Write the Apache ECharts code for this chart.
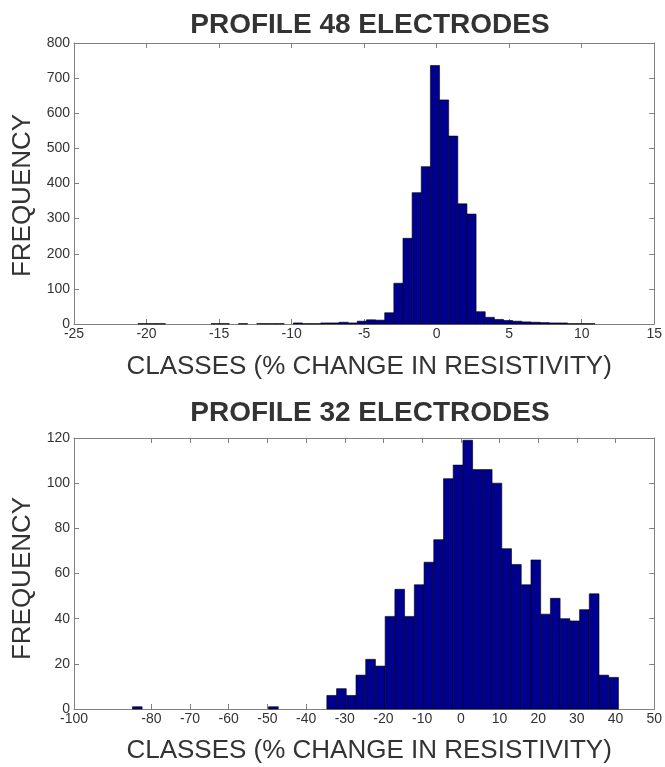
<!DOCTYPE html>
<html>
<head>
<meta charset="utf-8">
<script src="https://cdn.jsdelivr.net/npm/echarts@6/dist/echarts.min.js"></script>
<style>
html,body{margin:0;padding:0;background:#fff;}
#chart{width:665px;height:767px;}
</style>
</head>
<body>
<div id="chart"></div>
<script>
// ---- Top histogram: PROFILE 48 ELECTRODES ----
const topTitle = 'PROFILE 48 ELECTRODES';
const topBinWidth = 0.63;
const topCenters = [-20.275,-19.645,-19.015,-18.385,-17.755,-17.125,-16.495,-15.865,-15.235,-14.605,
  -13.975,-13.345,-12.715,-12.085,-11.455,-10.825,-10.195,-9.565,-8.935,-8.305,
  -7.675,-7.045,-6.415,-5.785,-5.155,-4.525,-3.895,-3.265,-2.635,-2.005,
  -1.375,-0.745,-0.115,0.515,1.145,1.775,2.405,3.035,3.665,4.295,
  4.925,5.555,6.185,6.815,7.445,8.075,8.705,9.335,9.965,10.595];
const topCounts = [1,1,1,0,0,0,0,0,1,1,
  0,1,0,1,1,1,0,3,1,1,
  3,3,5,3,8,12,11,32,116,244,
  374,448,736,638,535,342,313,35,19,13,
  10,8,6,5,4,3,3,1,1,1];
const topXTicks = [-25,-20,-15,-10,-5,0,5,10,15];
const topYTicks = [0,100,200,300,400,500,600,700,800];

// ---- Bottom histogram: PROFILE 32 ELECTRODES ----
const botTitle = 'PROFILE 32 ELECTRODES';
const botBinWidth = 2.513;
const botCenters = [-83.64,-81.127,-78.614,-76.101,-73.588,-71.075,-68.562,-66.049,-63.536,-61.023,
  -58.51,-55.997,-53.484,-50.971,-48.458,-45.945,-43.432,-40.919,-38.406,-35.893,
  -33.38,-30.867,-28.354,-25.841,-23.328,-20.815,-18.302,-15.789,-13.276,-10.763,
  -8.25,-5.737,-3.224,-0.711,1.802,4.315,6.828,9.341,11.854,14.367,
  16.88,19.393,21.906,24.419,26.932,29.445,31.958,34.471,36.984,39.497];
const botCounts = [1,0,0,0,0,0,0,0,0,0,
  0,0,0,0,1,0,0,0,0,0,
  6,9,6,15,22,19,41,53,41,55,
  65,75,102,108,119,106,106,100,71,64,
  55,66,42,49,40,39,44,51,15,14];
const botXTicks = [-100,-80,-70,-60,-50,-40,-30,-20,-10,0,10,20,30,40,50];
const botYTicks = [0,20,40,60,80,100,120];

const xName = 'CLASSES (% CHANGE IN RESISTIVITY)';
const yName = 'FREQUENCY';

const FONT = 'Liberation Sans, Arial, sans-serif';
const AX = '#808080';
const TXT = '#333333';
const BAR = '#00008F';

function hist(centers, counts, w, gi) {
  return {
    type: 'custom',
    xAxisIndex: gi * 2,
    yAxisIndex: gi * 2,
    data: centers.map((c, i) => [c, counts[i]]),
    renderItem: function (params, api) {
      const c = api.value(0), v = api.value(1);
      if (!v) return null;
      const p1 = api.coord([c - w / 2, v]);
      const p2 = api.coord([c + w / 2, 0]);
      return {
        type: 'rect',
        shape: {x: p1[0], y: p1[1], width: p2[0] - p1[0], height: p2[1] - p1[1]},
        style: {fill: BAR, stroke: '#000', lineWidth: 0.6}
      };
    }
  };
}

function xAxes(gi, ticks, nameGap) {
  const min = ticks[0], max = ticks[ticks.length - 1];
  const common = {
    type: 'value', gridIndex: gi, min: min, max: max,
    splitLine: {show: false},
    axisLine: {show: true, onZero: false, lineStyle: {color: AX, width: 1}},
    axisTick: {show: true, inside: true, length: 5, customValues: ticks, lineStyle: {color: AX}},
  };
  return [
    Object.assign({}, common, {
      position: 'bottom',
      name: xName, nameLocation: 'middle', nameGap: nameGap,
      nameTextStyle: {fontFamily: FONT, fontSize: 26, color: TXT, padding: [0, 0, 0, 10]},
      axisLabel: {show: true, customValues: ticks, fontFamily: FONT, fontSize: 14, color: TXT, margin: 3}
    }),
    Object.assign({}, common, {position: 'top', axisLabel: {show: false}})
  ];
}

function yAxes(gi, ticks, nameGap, shift) {
  const min = ticks[0], max = ticks[ticks.length - 1];
  const common = {
    type: 'value', gridIndex: gi, min: min, max: max,
    splitLine: {show: false},
    axisLine: {show: true, onZero: false, lineStyle: {color: AX, width: 1}},
    axisTick: {show: true, inside: true, length: 5, customValues: ticks, lineStyle: {color: AX}},
  };
  return [
    Object.assign({}, common, {
      position: 'left',
      name: yName, nameLocation: 'middle', nameGap: nameGap, nameRotate: 90,
      nameTextStyle: {fontFamily: FONT, fontSize: 26, color: TXT, padding: [0, shift, 0, 0]},
      axisLabel: {show: true, customValues: ticks, fontFamily: FONT, fontSize: 14, color: TXT, margin: 4}
    }),
    Object.assign({}, common, {position: 'right', axisLabel: {show: false}})
  ];
}

const chart = echarts.init(document.getElementById('chart'), null, {renderer: 'canvas'});
const tx = xAxes(0, topXTicks, 30), bx = xAxes(1, botXTicks, 29);
const ty = yAxes(0, topYTicks, 30, 24), by = yAxes(1, botYTicks, 30, 10);
chart.setOption({
  animation: false,
  backgroundColor: '#ffffff',
  title: [
    {text: topTitle, left: 365, top: 6, textAlign: 'center',
     textStyle: {fontFamily: FONT, fontSize: 28, fontWeight: 'bold', color: TXT}},
    {text: botTitle, left: 365, top: 394, textAlign: 'center',
     textStyle: {fontFamily: FONT, fontSize: 28, fontWeight: 'bold', color: TXT}}
  ],
  grid: [
    {left: 74, top: 43, width: 581, height: 281},
    {left: 74, top: 438, width: 581, height: 271}
  ],
  xAxis: [tx[0], tx[1], bx[0], bx[1]],
  yAxis: [ty[0], ty[1], by[0], by[1]],
  series: [
    hist(topCenters, topCounts, topBinWidth, 0),
    hist(botCenters, botCounts, botBinWidth, 1)
  ]
});
</script>
</body>
</html>
